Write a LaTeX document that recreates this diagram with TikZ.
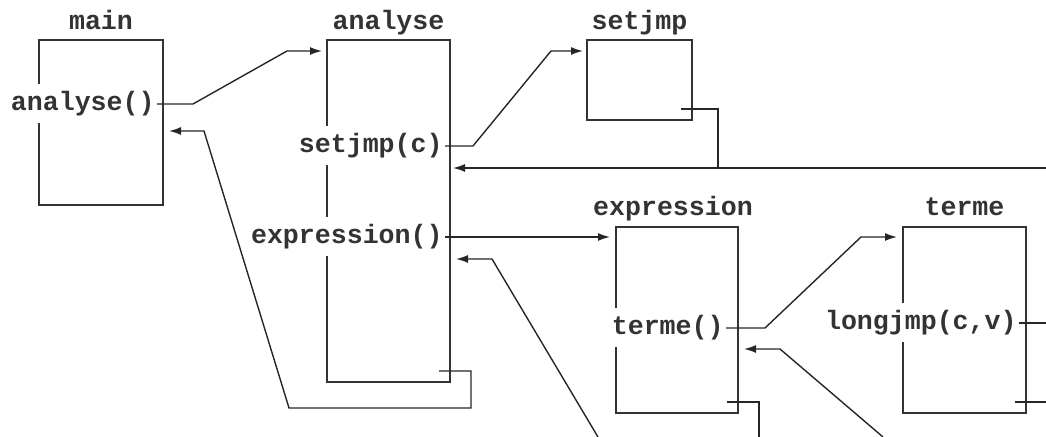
\documentclass[tikz,border=0pt]{standalone}
\usepackage{fontspec}
\setmonofont{Liberation Mono}
\usetikzlibrary{arrows.meta,positioning}
\begin{document}
\begin{tikzpicture}[x=0.5pt,y=-0.5pt,
        >={Latex[length=6pt,width=4pt]},
        every node/.style={font=\ttfamily\bfseries\fontsize{13.3}{16}\selectfont,text=black!80},
        frame/.style={draw=black!80,line width=0.9pt,inner sep=0pt,outer sep=0pt},
        title/.style={inner sep=0pt,text depth=0pt},
        call/.style={fill=white,anchor=east,inner xsep=1pt,minimum height=19.5pt},
        link/.style={draw=black!85,line width=0.7pt},
        inset/.style={shift={(-11,-11)}}]
    \useasboundingbox (0,0) rectangle (1046,437);
    % frames
    \node[frame,minimum width=62pt,minimum height=82.5pt] (main) at (101,122.5) {};
    \node[frame,minimum width=61.5pt,minimum height=171pt] (analyse) at (388.5,211) {};
    \node[frame,minimum width=52.5pt,minimum height=40pt] (setjmp) at (639.5,80) {};
    \node[frame,minimum width=61pt,minimum height=93pt] (expression) at (677,320) {};
    \node[frame,minimum width=61.5pt,minimum height=93pt] (terme) at (964.5,320) {};
    % titles
    \node[title,above=5pt of main] (tmain) {main};
    \node[title,above=5pt of analyse] (tanalyse) {analyse};
    \node[title,above=5pt of setjmp] (tsetjmp) {setjmp};
    \node[title,above=5.5pt of expression,xshift=-2pt] (texpression) {expression};
    \node[title,above=5.5pt of terme] (tterme) {terme};
    % calls
    \node[call] (cmain) at (157,104) {analyse()};
    \node[call] (csetjmp) at (445,146) {setjmp(c)};
    \node[call] (cexpr) at (445,237) {expression()};
    \node[call] (cterme) at (726,328) {terme()};
    \node[call] (clong) at (1019,323) {longjmp(c,v)};
    % free ends
    \coordinate (rjmp) at (1046,168);
    \coordinate (rlong) at (1046,323);
    \coordinate (rterme) at (1046,402);
    \coordinate (bexpr) at (598,437);
    \coordinate (bstub) at (759,437);
    \coordinate (bterme) at (883,437);
    % links
    \draw[link,->,shorten >=2.5pt] (cmain.east) -- (193,104) -- (287,51) -- (analyse.west |- 0,51);
    \draw[link,->,shorten >=3pt] ([inset]analyse.south east) -- (471,371) -- (471,408) -- (289,408) -- (204,131) -- (main.east |- 0,131);
    \draw[link,->,shorten >=2pt] (csetjmp.east) -- (473,146) -- (551,51) -- (setjmp.west |- 0,51);
    \draw[link] ([inset]setjmp.south east) -- (718,109) -- (718,0 |- rjmp);
    \draw[link,->,shorten >=1.5pt] (rjmp) -- (analyse.east |- rjmp);
    \draw[link,->,shorten >=3pt] (cexpr.east) -- (expression.west |- cexpr.east);
    \draw[link,->,shorten >=3pt] (bexpr) -- (492,259) -- (analyse.east |- 0,259);
    \draw[link,->,shorten >=3pt] (cterme.east) -- (765,328) -- (861,237) -- (terme.west |- 0,237);
    \draw[link,->,shorten >=3pt] (bterme) -- (780,349) -- (expression.east |- 0,349);
    \draw[link] ([inset]expression.south east) -- (759,402) -- (bstub);
    \draw[link] (clong.east) -- (rlong);
    \draw[link] ([inset]terme.south east) -- (rterme);
\end{tikzpicture}
\end{document}
